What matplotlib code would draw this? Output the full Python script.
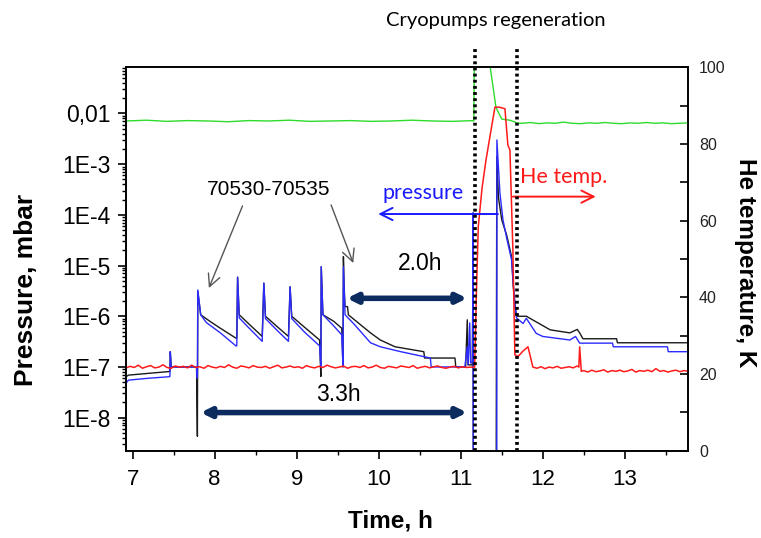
import matplotlib.pyplot as plt
import numpy as np
from matplotlib.ticker import FixedLocator, MultipleLocator, NullFormatter, LogLocator

plt.rcParams['font.family'] = ['Liberation Sans', 'DejaVu Sans']

# pressure traces (left axis, mbar); 1e-11 = gauge off / off scale
blue_t = [6.92, 6.95, 7.20, 7.44, 7.455, 7.46, 7.47, 7.78, 7.79, 7.795, 7.83, 7.90, 8.07, 8.26,
          8.27, 8.28, 8.30, 8.40, 8.58, 8.60, 8.62, 8.75, 8.90, 8.92, 8.94, 9.10, 9.28,
          9.295, 9.30, 9.32, 9.45, 9.55, 9.565, 9.57, 9.59, 9.70, 9.90, 10.02, 10.27, 10.63,
          10.64, 11.05, 11.08, 11.09, 11.11, 11.12, 11.145, 11.15, 11.155, 11.44, 11.441,
          11.478, 11.515, 11.56, 11.62, 11.64, 11.66, 11.68, 11.76, 11.80, 11.92, 12.00,
          12.33, 12.40, 12.45, 12.85, 12.86, 13.52, 13.53, 13.77]
blue_p = [4.8e-8, 5.5e-8, 6.0e-8, 6.4e-8, 6.5e-8, 2.0e-7, 1.0e-7, 1.0e-7, 6.0e-8, 3.3e-6, 1.07e-6, 7.5e-7, 4.7e-7, 2.6e-7,
          2.6e-7, 5.9e-6, 9.3e-7, 6.3e-7, 3.2e-7, 4.5e-6, 9.0e-7, 5.5e-7, 3.2e-7, 3.8e-6, 9.0e-7, 4.8e-7, 2.6e-7,
          1.0e-7, 9.5e-6, 1.07e-6, 6.5e-7, 4.3e-7, 1.0e-7, 9.5e-6, 1.07e-6, 7.0e-7, 3.0e-7, 2.5e-7, 2.0e-7, 1.5e-7,
          1.0e-7, 1.0e-7, 2.5e-7, 1.1e-7, 7.4e-7, 1.2e-7, 1.3e-7, 1.1e-4, 1e-11, 1e-11, 3.0e-3,
          2.7e-4, 8.0e-5, 3.5e-5, 1.3e-5, 4.5e-6, 1.8e-6, 9.3e-7, 7.2e-7, 9.1e-7, 4.6e-7, 4.0e-7,
          3.4e-7, 4.0e-7, 2.95e-7, 2.95e-7, 2.5e-7, 2.5e-7, 2.0e-7, 2.0e-7]

black_t = [6.92, 6.95, 7.20, 7.44, 7.455, 7.46, 7.47, 7.78, 7.79, 7.795, 7.83, 7.95, 8.07, 8.26,
           8.27, 8.28, 8.30, 8.42, 8.58, 8.60, 8.62, 8.75, 8.90, 8.92, 8.94, 9.10, 9.28,
           9.295, 9.30, 9.32, 9.45, 9.55, 9.565, 9.57, 9.58, 9.59, 9.62, 9.63, 9.90, 10.02,
           10.20, 10.55, 10.56, 10.93, 10.94, 11.06, 11.08, 11.09, 11.14, 11.15, 11.155,
           11.43, 11.44, 11.46, 11.50, 11.56, 11.62, 11.64, 11.66, 11.68, 11.80, 12.09,
           12.33, 12.42, 12.45, 12.49, 12.90, 12.91, 13.77]
black_p = [6.4e-8, 6.9e-8, 7.5e-8, 8.1e-8, 8.2e-8, 2.0e-7, 1.0e-7, 1.0e-7, 4.3e-9, 3.1e-6, 1.07e-6, 7.8e-7, 5.8e-7, 3.7e-7,
           3.7e-7, 5.9e-6, 1.07e-6, 7.0e-7, 4.0e-7, 4.5e-6, 1.0e-6, 6.5e-7, 4.0e-7, 3.8e-6, 1.0e-6, 6.0e-7, 3.4e-7,
           6.5e-8, 9.5e-6, 1.07e-6, 8.0e-7, 5.8e-7, 1.0e-7, 1.5e-5, 3.5e-6, 1.55e-6, 1.55e-6, 1.07e-6, 4.7e-7, 3.4e-7,
           2.5e-7, 2.0e-7, 1.5e-7, 1.5e-7, 1.0e-7, 1.0e-7, 8.5e-7, 1.1e-7, 1.1e-7, 7.0e-6, 1e-11,
           1e-11, 1.4e-3, 2.2e-4, 8.0e-5, 4.0e-5, 1.5e-5, 4.0e-6, 1.8e-6, 1.0e-6, 1.0e-6, 5.4e-7,
           4.7e-7, 5.5e-7, 4.7e-7, 3.6e-7, 3.6e-7, 3.0e-7, 3.0e-7]

# He temperature (right axis, K)
red_pre = [21.6, 22.0, 21.7, 22.3, 21.5, 21.9, 22.2, 21.6, 21.8, 22.4,
           21.7, 21.5, 22.1, 21.8, 22.0, 21.6, 22.3, 21.7, 21.9, 21.5,
           22.2, 21.8, 21.6, 22.0, 21.7, 22.4, 21.8, 21.5, 22.1, 21.9,
           21.6, 22.2, 21.8, 21.7, 22.0, 21.5, 21.9, 22.3, 21.6, 21.8,
           22.1, 21.7, 21.9, 21.5, 22.2, 21.8, 21.6, 22.0, 21.7, 22.3,
           21.9, 21.6, 21.8, 22.1, 21.5, 21.9, 22.0, 21.7, 22.2, 21.6,
           21.8, 22.3, 21.7, 21.5, 22.0, 21.8, 21.6, 22.1, 21.9, 21.7,
           22.2, 21.5, 21.8, 22.0, 21.6, 21.9, 22.1, 21.7, 21.5, 21.8,
           22.0, 21.6, 21.9, 21.7, 21.8, 21.8]
red_event_t = [11.19, 11.214, 11.26, 11.308, 11.417, 11.47, 11.539, 11.575, 11.60, 11.636,
               11.66, 11.70, 11.76, 11.82, 11.88]
red_event_T = [40.0, 58.4, 68.5, 75.8, 89.6, 89.6, 89.2, 79.7, 78.4, 52.3,
               25.0, 24.6, 26.0, 27.1, 21.8]
red_mid = [21.5, 21.9, 21.4, 21.8, 21.6, 22.0, 21.5, 21.7, 21.9, 21.6, 22.1]
red_spike_t = [12.44, 12.45, 12.47]
red_spike_T = [21.8, 27.1, 20.7]
red_post = [20.9, 20.5, 21.0, 20.6, 20.8, 21.1, 20.5, 20.9, 20.7, 21.0,
            20.6, 20.8, 21.2, 20.5, 20.9, 20.7, 21.0, 20.6, 21.4, 20.7,
            20.9, 20.5, 20.8, 21.0, 20.6, 20.9, 20.7]

green_pre = [86.0, 86.2, 85.9, 86.1, 86.0, 85.8, 86.1, 86.0, 86.2, 85.9,
             86.0, 86.1, 85.9, 86.0, 86.2, 86.0, 85.9, 86.1]
green_event_t = [11.16, 11.17, 11.35, 11.36, 11.43, 11.50, 11.60, 11.70]
green_event_T = [86.0, 115.0, 115.0, 100.0, 89.5, 86.5, 86.2, 85.4]
green_post = [85.4, 85.6, 85.3, 85.5, 85.4, 85.7, 85.4, 85.3, 85.5, 85.4,
              85.6, 85.4, 85.3, 85.5, 85.4, 85.6, 85.4, 85.5, 85.3, 85.4, 85.5]

p_ticks = [1e-2, 1e-3, 1e-4, 1e-5, 1e-6, 1e-7, 1e-8]
p_labels = ['0,01', '1E-3', '1E-4', '1E-5', '1E-6', '1E-7', '1E-8']
regen = [11.17, 11.69]

red_t = list(np.linspace(6.92, 11.17, len(red_pre))) + red_event_t \
    + list(np.linspace(11.93, 12.42, len(red_mid))) + red_spike_t \
    + list(np.linspace(12.50, 13.77, len(red_post)))
red_T = red_pre + red_event_T + red_mid + red_spike_T + red_post
green_t = list(np.linspace(6.92, 11.15, len(green_pre))) + green_event_t \
    + list(np.linspace(11.75, 13.77, len(green_post)))
green_T = green_pre + green_event_T + green_post

fig = plt.figure(figsize=(7.61, 5.38), dpi=100)
ax = fig.add_axes([0.1656, 0.1623, 0.7384, 0.7126])
ax2 = ax.twinx()

ax.plot(black_t, black_p, color='#1a1a1a', lw=1.0)
ax.plot(blue_t, blue_p, color='#2b2bff', lw=1.0)
ax.set_yscale('log')
ax.set_xlim(6.92, 13.77)
ax.set_ylim(2.23e-9, 8.15e-2)

ax2.plot(green_t, green_T, color='#2ddc2d', lw=1.0)
ax2.plot(red_t, red_T, color='#ff1a1a', lw=1.1)
ax2.set_ylim(0, 100)

# ticks
ax.yaxis.set_major_locator(FixedLocator(p_ticks))
ax.set_yticklabels(p_labels)
ax.yaxis.set_minor_locator(LogLocator(base=10, subs=np.arange(2, 10), numticks=20))
ax.yaxis.set_minor_formatter(NullFormatter())
ax.xaxis.set_major_locator(MultipleLocator(1))
ax.xaxis.set_minor_locator(MultipleLocator(0.5))
ax.tick_params(axis='y', which='major', direction='out', length=6, width=1.2,
               labelsize=16.5, pad=5)
ax.tick_params(axis='x', which='major', direction='out', length=6, width=1.2,
               labelsize=16, pad=7)
ax.tick_params(axis='both', which='minor', direction='out', length=3, width=1.0)
ax.tick_params(axis='y', which='both', right=False)
ax2.yaxis.set_major_locator(MultipleLocator(20))
ax2.yaxis.set_minor_locator(MultipleLocator(10))
ax2.tick_params(axis='y', which='both', direction='in', length=6, width=1.2,
                labelsize=11.5, pad=8, colors='black')
ax2.tick_params(axis='y', which='major', labelcolor='#222222')
for s in ax.spines.values():
    s.set_linewidth(1.2)
for s in ax2.spines.values():
    s.set_linewidth(1.2)

# regeneration markers
for x in regen:
    ax2.plot([x, x], [0, 1.053], transform=ax2.get_xaxis_transform(), color='black',
             lw=2.6, linestyle=(0, (0.8, 0.9)), clip_on=False, zorder=5)
ax2.text(11.43, 1.123, 'Cryopumps regeneration', transform=ax2.get_xaxis_transform(),
         ha='center', va='center', fontsize=14.5, family=['Lato', 'DejaVu Sans'])

# annotations
dt = ax.transData
ax2.text(8.656, 3.1e-4, '70530-70535', transform=dt, ha='center', va='center', fontsize=15)
ax2.annotate('', xy=(7.93, 3.6e-6), xytext=(8.34, 1.5e-4), xycoords=dt, textcoords=dt,
             arrowprops=dict(arrowstyle='->', color='#555555', lw=1.0, mutation_scale=22,
                             shrinkA=0, shrinkB=0))
ax2.annotate('', xy=(9.69, 1.12e-5), xytext=(9.42, 1.57e-4), xycoords=dt, textcoords=dt,
             arrowprops=dict(arrowstyle='->', color='#555555', lw=1.0, mutation_scale=22,
                             shrinkA=0, shrinkB=0))

ax2.text(10.54, 2.7e-4, 'pressure', transform=dt, ha='center', va='center',
         fontsize=15.5, color='#1a1aff', family=['Lato', 'DejaVu Sans'])
ax2.annotate('', xy=(9.994, 1.04e-4), xytext=(11.454, 1.04e-4), xycoords=dt, textcoords=dt,
             arrowprops=dict(arrowstyle='->', color='#1a1aff', lw=1.4, mutation_scale=22,
                             shrinkA=0, shrinkB=0))
ax2.text(12.25, 5.6e-4, 'He temp.', transform=dt, ha='center', va='center',
         fontsize=15.5, color='#ff1a1a', family=['Lato', 'DejaVu Sans'])
ax2.annotate('', xy=(12.646, 2.29e-4), xytext=(11.636, 2.29e-4), xycoords=dt, textcoords=dt,
             arrowprops=dict(arrowstyle='->', color='#ff1a1a', lw=1.4, mutation_scale=22,
                             shrinkA=0, shrinkB=0))

navy = '#0c2b5e'
ax2.text(10.505, 1.12e-5, '2.0h', transform=dt, ha='center', va='center', fontsize=16.5)
ax2.annotate('', xy=(9.613, 2.26e-6), xytext=(11.077, 2.26e-6), xycoords=dt, textcoords=dt,
             arrowprops=dict(arrowstyle='<|-|>', color=navy, lw=4, mutation_scale=14,
                             shrinkA=0, shrinkB=0))
ax2.text(9.51, 2.8e-8, '3.3h', transform=dt, ha='center', va='center', fontsize=16.5)
ax2.annotate('', xy=(7.83, 1.26e-8), xytext=(11.077, 1.26e-8), xycoords=dt, textcoords=dt,
             arrowprops=dict(arrowstyle='<|-|>', color=navy, lw=4, mutation_scale=14,
                             shrinkA=0, shrinkB=0))

# axis titles
fig.text(390 / 761, 1 - 521 / 538, 'Time, h', ha='center', va='center',
         fontsize=17.5, fontweight='bold')
fig.text(26 / 761, 1 - 290 / 538, 'Pressure, mbar', ha='center', va='center',
         rotation=90, fontsize=19, fontweight='bold')
fig.text(745 / 761, 1 - 263 / 538, 'He temperature, K', ha='center', va='center',
         rotation=270, fontsize=17.5, fontweight='bold')

fig.savefig('out.png', dpi=100)
